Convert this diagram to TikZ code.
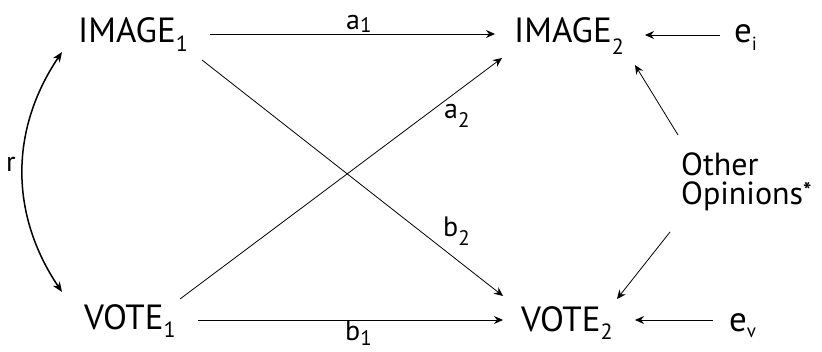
\documentclass[tikz,border=0pt]{standalone}
\usepackage{fontspec}
\setmainfont{PT Sans}
\usetikzlibrary{arrows.meta,calc}
\newcommand\mysub[3]{\raisebox{-#1pt}{\fontsize{#2}{#2}\selectfont #3}}
\begin{document}
\begin{tikzpicture}[x=1pt,y=-1pt,
  var/.style={inner sep=0pt, anchor=base west, font=\fontsize{35}{40}\selectfont},
  lab/.style={inner sep=0pt, anchor=base west, font=\fontsize{28}{30}\selectfont},
  arr/.style={line width=0.8pt, -{Stealth[length=9pt,width=8pt,inset=3pt]}},
  darr/.style={line width=1.5pt, {Stealth[length=10pt,width=8pt,inset=3pt]}-{Stealth[length=10pt,width=8pt,inset=3pt]}},
]
\useasboundingbox[fill=white] (0,0) rectangle (822,352);
% variables
\node[var] (I1) at (78,43) {IMAGE\mysub{9}{22}{1}};
\node[var] (I2) at (514,43) {IMAGE\mysub{12}{22}{2}};
\node[var] (ei) at (734,43) {e\mysub{8}{19}{i}};
\node[var] (V1) at (84,330) {VOTE\mysub{8}{22}{1}};
\node[var] (V2) at (521,332) {VOTE\mysub{8}{22}{2}};
\node[var] (ev) at (729,332) {e\mysub{6}{19}{v}};
\node[var, anchor=north west, align=left, font=\fontsize{32}{29}\selectfont] (OO) at (681,153) {Other\\Opinions\raisebox{6pt}{\fontsize{22}{22}\selectfont\bfseries *}};
% labels
\node[lab] (la1) at (346,30) {a\mysub{3}{21}{1}};
\node[lab] (lb1) at (345,341) {b\mysub{5}{21}{1}};
\node[lab] (la2) at (444,119) {a\mysub{9}{21}{2}};
\node[lab] (lb2) at (443,237) {b\mysub{9}{21}{2}};
\node[lab] (lr) at (6,172) {r};
% connectors
\draw[arr] ($(I1.base west)+(132,-9)$) -- ($(I2.base west)+(-19,-9)$);
\draw[arr] ($(ei.base west)+(-14,-8)$) -- ($(I2.base west)+(131,-8)$);
\draw[arr] ($(V1.base west)+(114,-10)$) -- ($(V2.base west)+(-18,-12)$);
\draw[arr] ($(ev.base west)+(-16,-12)$) -- ($(V2.base west)+(114,-12)$);
\draw[arr] ($(I1.base west)+(124,17)$) -- ($(V2.base west)+(-18,-36)$);
\draw[arr] ($(V1.base west)+(96,-31)$) -- ($(I2.base west)+(-12,15)$);
\draw[arr] ($(OO.north west)+(-3,-18)$) -- ($(I2.base west)+(121,22)$);
\draw[arr] ($(OO.north west)+(-11,79)$) -- ($(V2.base west)+(96,-33)$);
\draw[darr] ($(I1.base west)+(-16,9)$) to[bend right=34] ($(V1.base west)+(-22,-38)$);
\end{tikzpicture}
\end{document}
